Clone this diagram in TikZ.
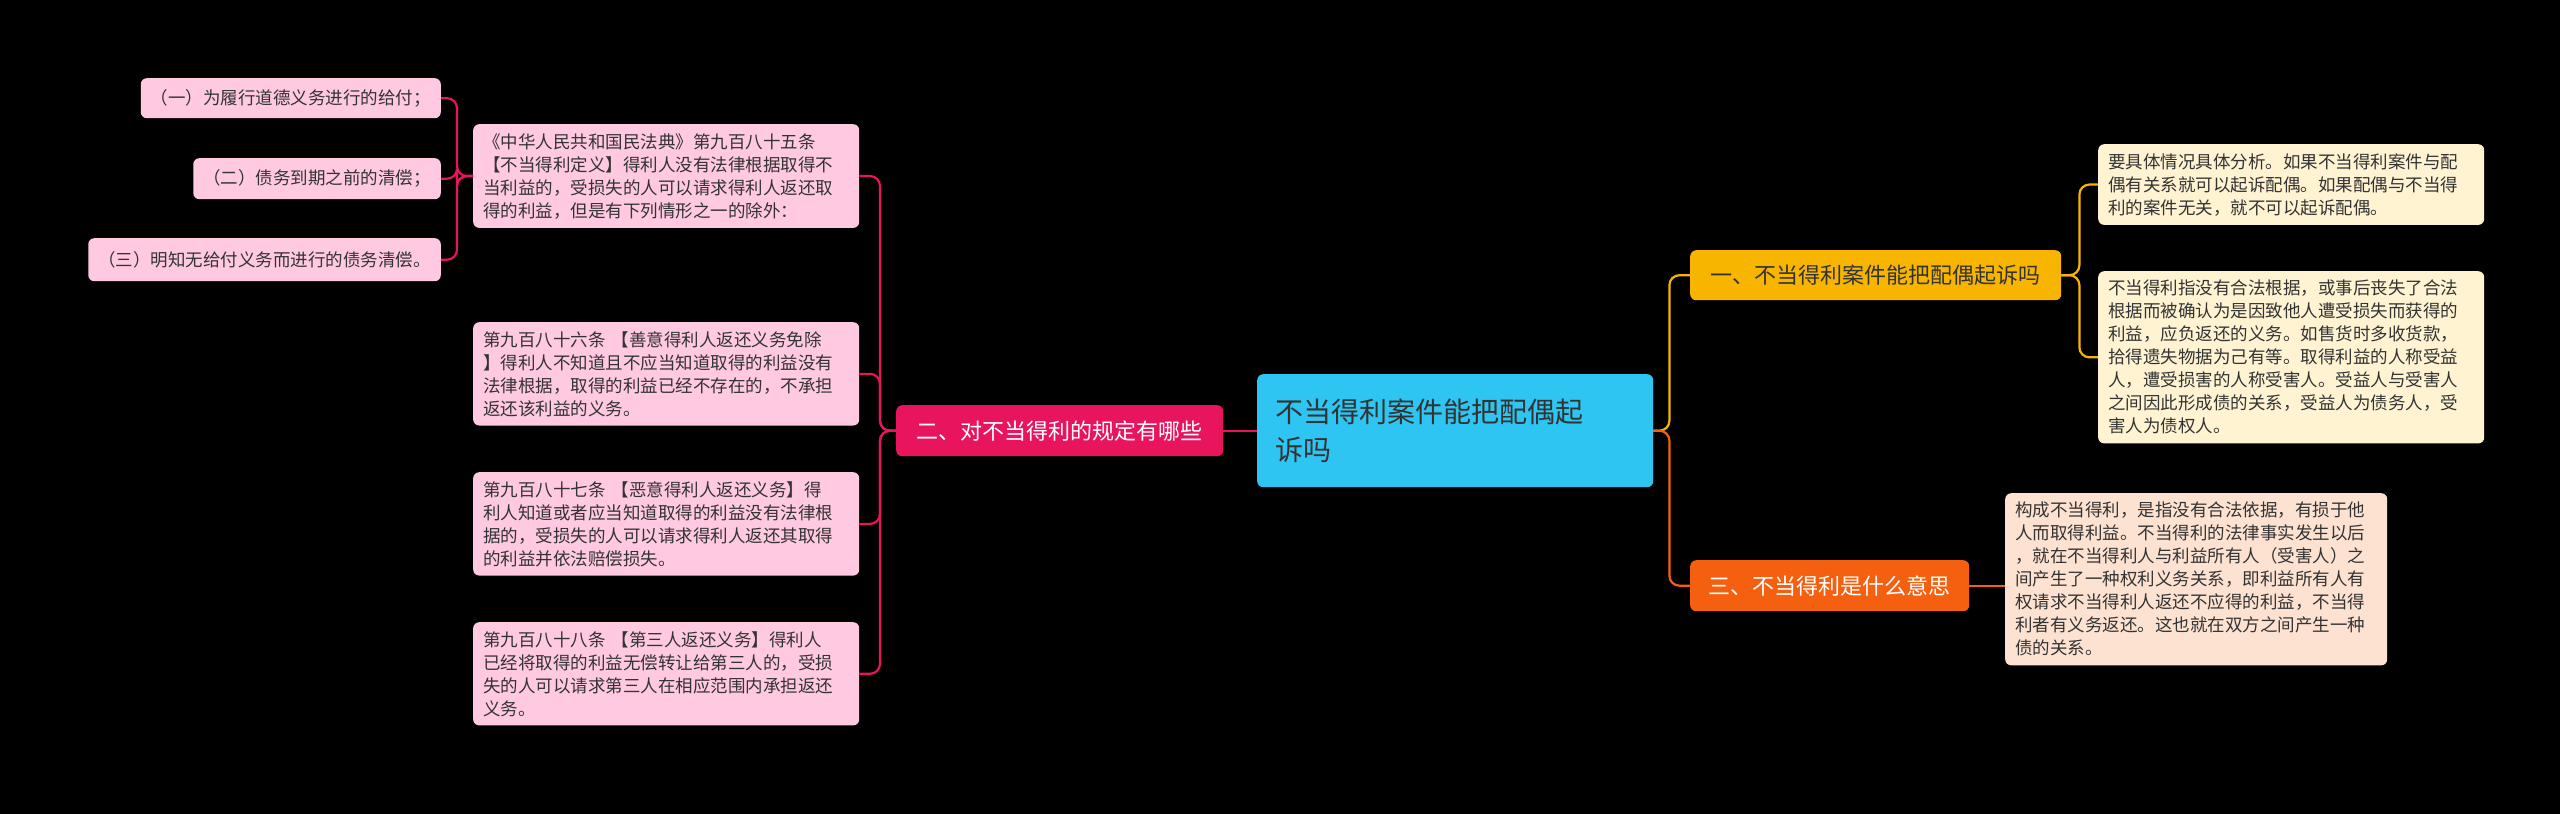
\documentclass[tikz,border=0pt]{standalone}
\usepackage{fontspec}
\setmainfont{Noto Sans CJK SC}
\definecolor{rootblue}{HTML}{2EC5F2}
\definecolor{yelbr}{HTML}{F7B500}
\definecolor{orabr}{HTML}{F4600F}
\definecolor{magbr}{HTML}{E8145E}
\definecolor{yelleaf}{HTML}{FFF3D2}
\definecolor{oraleaf}{HTML}{FDE2D2}
\definecolor{magleaf}{HTML}{FFC9E1}
\definecolor{inktext}{HTML}{333333}
\tikzset{
  rootbox/.style={fill=rootblue, rounded corners=6pt, text width=360pt, align=left, inner xsep=18pt, inner ysep=12pt, font=\fontsize{28}{38}\selectfont, text=inktext},
  branchbox/.style={rounded corners=6pt, inner xsep=12pt, inner ysep=10pt, font=\fontsize{22}{26}\selectfont},
  leafbox/.style={rounded corners=6pt, align=left, inner xsep=10pt, inner ysep=9pt, font=\fontsize{17.5}{23}\selectfont, text=inktext},
  link/.style={line width=2.2pt, rounded corners=10pt},
}
\begin{document}
\begin{tikzpicture}[x=1pt,y=-1pt]
  \fill[black] (0,0) rectangle (2560,814);
  \useasboundingbox (0,0) rectangle (2560,814);

  % centre
  \node[rootbox, anchor=north west, minimum height=113pt] (root) at (1257,374) {不当得利案件能把配偶起\\诉吗};

  % right branches
  \node[branchbox, fill=yelbr, text=inktext, anchor=north west, minimum width=371pt, minimum height=50pt] (b1) at (1690,250) {一、不当得利案件能把配偶起诉吗};
  \node[branchbox, fill=orabr, text=white, anchor=north west, minimum width=279pt, minimum height=51pt] (b3) at (1690,560) {三、不当得利是什么意思};
  \node[leafbox, fill=yelleaf, anchor=north west, text width=366pt] (l1a) at (2098,144) {要具体情况具体分析。如果不当得利案件与配\\偶有关系就可以起诉配偶。如果配偶与不当得\\利的案件无关，就不可以起诉配偶。};
  \node[leafbox, fill=yelleaf, anchor=north west, text width=366pt] (l1b) at (2098,271) {不当得利指没有合法根据，或事后丧失了合法\\根据而被确认为是因致他人遭受损失而获得的\\利益，应负返还的义务。如售货时多收货款，\\拾得遗失物据为己有等。取得利益的人称受益\\人，遭受损害的人称受害人。受益人与受害人\\之间因此形成债的关系，受益人为债务人，受\\害人为债权人。};
  \node[leafbox, fill=oraleaf, anchor=north west, text width=362pt] (l3) at (2005,493) {构成不当得利，是指没有合法依据，有损于他\\人而取得利益。不当得利的法律事实发生以后\\，就在不当得利人与利益所有人（受害人）之\\间产生了一种权利义务关系，即利益所有人有\\权请求不当得利人返还不应得的利益，不当得\\利者有义务返还。这也就在双方之间产生一种\\债的关系。};

  % left branch
  \node[branchbox, fill=magbr, text=white, anchor=north west, minimum width=327pt, minimum height=51pt] (b2) at (896,405) {二、对不当得利的规定有哪些};
  \node[leafbox, fill=magleaf, anchor=north west, text width=366pt] (l2a) at (473,124) {《中华人民共和国民法典》第九百八十五条\\【不当得利定义】得利人没有法律根据取得不\\当利益的，受损失的人可以请求得利人返还取\\得的利益，但是有下列情形之一的除外：};
  \node[leafbox, fill=magleaf, anchor=north west, text width=366pt] (l2b) at (473,322) {第九百八十六条 【善意得利人返还义务免除\\】得利人不知道且不应当知道取得的利益没有\\法律根据，取得的利益已经不存在的，不承担\\返还该利益的义务。};
  \node[leafbox, fill=magleaf, anchor=north west, text width=366pt] (l2c) at (473,472) {第九百八十七条 【恶意得利人返还义务】得\\利人知道或者应当知道取得的利益没有法律根\\据的，受损失的人可以请求得利人返还其取得\\的利益并依法赔偿损失。};
  \node[leafbox, fill=magleaf, anchor=north west, text width=366pt] (l2d) at (473,622) {第九百八十八条 【第三人返还义务】得利人\\已经将取得的利益无偿转让给第三人的，受损\\失的人可以请求第三人在相应范围内承担返还\\义务。};
  \node[leafbox, fill=magleaf, anchor=north east, minimum height=40pt] (s1) at (441,78) {（一）为履行道德义务进行的给付；};
  \node[leafbox, fill=magleaf, anchor=north east, minimum height=41pt] (s2) at (441,158) {（二）债务到期之前的清偿；};
  \node[leafbox, fill=magleaf, anchor=north east, minimum height=43pt] (s3) at (441,238) {（三）明知无给付义务而进行的债务清偿。};

  % connectors
  \draw[link, yelbr] (root.east) -- ++(16,0) |- (b1.west);
  \draw[link, orabr] (root.east) -- ++(16,0) |- (b3.west);
  \draw[link, magbr] (root.west) -- (b2.east);
  \draw[link, yelbr] (b1.east) -- ++(18,0) |- (l1a.west);
  \draw[link, yelbr] (b1.east) -- ++(18,0) |- (l1b.west);
  \draw[link, orabr] (b3.east) -- (l3.west |- b3.east);
  \foreach \leaf in {l2a,l2b,l2c,l2d}
    \draw[link, magbr] (b2.west) -- ++(-16,0) |- (\leaf.east);
  \foreach \sub in {s1,s2,s3}
    \draw[link, magbr] (l2a.west) -- ++(-16,0) |- (\sub.east);
\end{tikzpicture}
\end{document}
